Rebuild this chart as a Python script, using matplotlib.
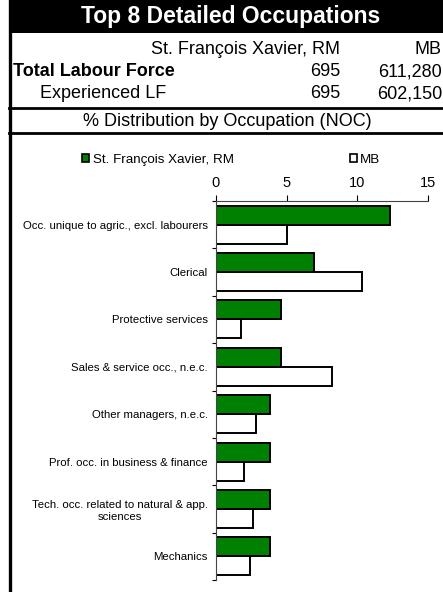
import matplotlib
matplotlib.use("Agg")
import matplotlib.pyplot as plt
from matplotlib.patches import Rectangle, Patch
from matplotlib.lines import Line2D
import numpy as np

plt.rcParams['font.family'] = ['Liberation Sans', 'DejaVu Sans']

categories = [
    "Occ. unique to agric., excl. labourers",
    "Clerical",
    "Protective services",
    "Sales & service occ., n.e.c.",
    "Other managers, n.e.c.",
    "Prof. occ. in business & finance",
    "Tech. occ. related to natural & app.\nsciences",
    "Mechanics",
]
region_vals = [12.3, 6.9, 4.6, 4.6, 3.8, 3.8, 3.8, 3.8]
mb_vals = [5.0, 10.3, 1.8, 8.2, 2.8, 2.0, 2.6, 2.4]
region_name = "St. François Xavier, RM"
prov_name = "MB"
total_lf = ["695", "611,280"]
exp_lf = ["695", "602,150"]
xticks = [0, 5, 10, 15]

W, H = 443, 592
fig = plt.figure(figsize=(W / 100, H / 100), dpi=100)
fig.patch.set_facecolor("white")

def fx(x):
    return x / W

def fy(y):
    return 1 - y / H

# Title band
fig.add_artist(Rectangle((fx(9), fy(33)), fx(W) - fx(9), fy(0) - fy(33),
                         transform=fig.transFigure, facecolor="black", edgecolor="none"))
fig.text(fx(231), fy(17), "Top 8 Detailed Occupations", color="white", fontsize=16.5,
         fontweight="bold", ha="center", va="center")

# Left border
fig.add_artist(Line2D([fx(10), fx(10)], [fy(0), fy(H)], transform=fig.transFigure,
                      color="black", lw=2.4))
# Horizontal rules
for yy in (108, 133):
    fig.add_artist(Line2D([fx(9), fx(W)], [fy(yy), fy(yy)], transform=fig.transFigure,
                          color="black", lw=2.0))

fs = 13
fig.text(fx(340), fy(49), region_name, fontsize=fs, ha="right", va="center")
fig.text(fx(442), fy(49), prov_name, fontsize=fs, ha="right", va="center")
fig.text(fx(13), fy(72), "Total Labour Force", fontsize=fs, fontweight="bold", ha="left", va="center")
fig.text(fx(340), fy(72), total_lf[0], fontsize=fs, ha="right", va="center")
fig.text(fx(442), fy(72), total_lf[1], fontsize=fs, ha="right", va="center")
fig.text(fx(40), fy(94), "Experienced LF", fontsize=fs, ha="left", va="center")
fig.text(fx(340), fy(94), exp_lf[0], fontsize=fs, ha="right", va="center")
fig.text(fx(442), fy(94), exp_lf[1], fontsize=fs, ha="right", va="center")
fig.text(fx(227), fy(121), "% Distribution by Occupation (NOC)", fontsize=fs, ha="center", va="center")

# Chart
ax = fig.add_axes([fx(216), fy(580), fx(428) - fx(216), fy(201) - fy(580)])
n = len(categories)
y = np.arange(n)
h = 0.4
ax.barh(y - h / 2, region_vals, height=h, color="#008000", edgecolor="black", linewidth=1.4)
ax.barh(y + h / 2, mb_vals, height=h, color="white", edgecolor="black", linewidth=1.4)
ax.set_ylim(n - 0.5, -0.5)
ax.set_xlim(0, 15)
ax.xaxis.tick_top()
ax.set_xticks(xticks)
ax.set_xticklabels([str(t) for t in xticks], fontsize=10.5)
ax.tick_params(axis="x", direction="out", length=4, width=0.8, pad=4)
ax.set_yticks(y)
ax.set_yticklabels(categories, fontsize=8.2, multialignment="center")
ax.tick_params(axis="y", which="major", length=0, pad=6)
ax.set_yticks(np.arange(n + 1) - 0.5, minor=True)
ax.tick_params(axis="y", which="minor", length=3, width=0.8, direction="out")
for s in ("right", "bottom"):
    ax.spines[s].set_visible(False)
for s in ("left", "top"):
    ax.spines[s].set_linewidth(0.8)
    ax.spines[s].set_color("#444444")

handles = [Patch(facecolor="#008000", edgecolor="black", linewidth=1.2),
           Patch(facecolor="white", edgecolor="black", linewidth=1.2)]
fig.legend(handles, [region_name, prov_name], ncol=2, loc="center left",
           bbox_to_anchor=(fx(70), fy(160)), frameon=False, fontsize=9.6,
           handlelength=0.55, handleheight=0.55, handletextpad=0.25, columnspacing=8.7)

fig.savefig("out.png", dpi=100, facecolor="white")
